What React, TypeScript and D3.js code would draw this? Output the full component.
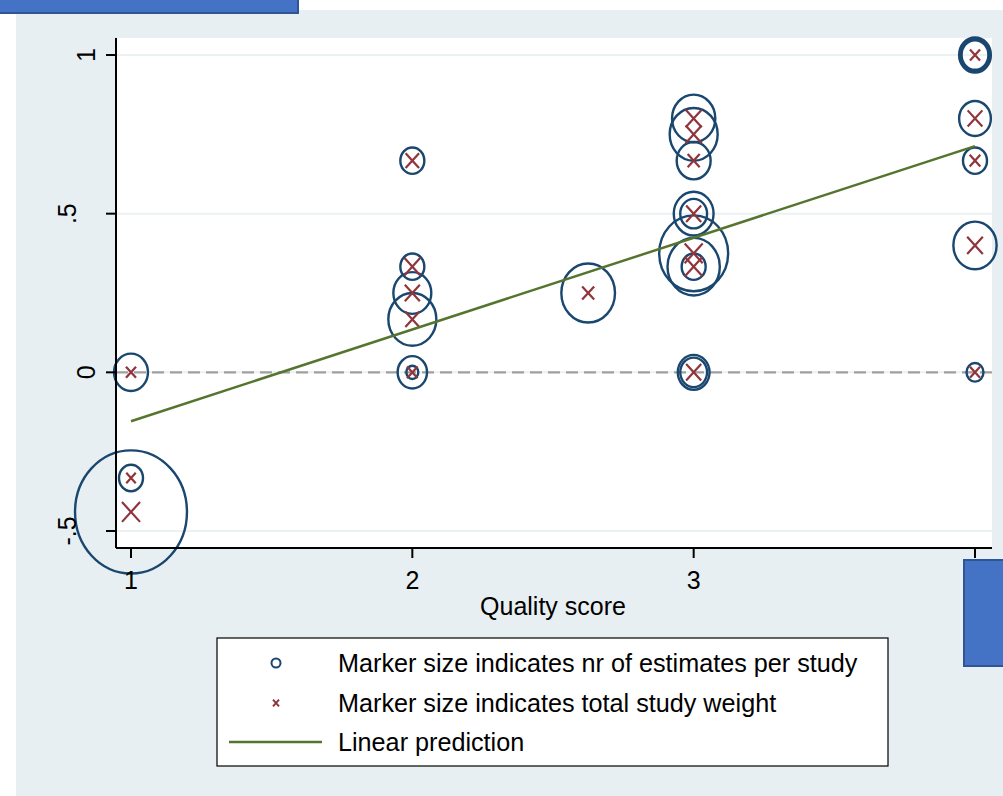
import React from "react";
import * as d3 from "d3";

// ---- data ----
const circleX = [1, 1, 1, 2, 2, 2, 2, 2, 2, 2.625, 3, 3, 3, 3, 3, 3, 3, 3, 3, 3, 4, 4, 4, 4, 4, 4, 4];
const circleY = [0, -0.333, -0.44, 0.667, 0.333, 0.25, 0.167, 0, 0, 0.25, 0.8, 0.75, 0.667, 0.5, 0.5, 0.375, 0.333, 0.333, 0, 0, 1, 1, 1, 0.8, 0.667, 0.4, 0];
const circleEstimates = [8, 4, 87, 4, 4, 10, 16, 6, 1, 20, 13, 16, 8, 11, 5, 33, 19, 4, 7, 5, 5, 6, 7, 7, 4, 13, 2];

const crossX = [1, 1, 1, 2, 2, 2, 2, 2, 2.625, 3, 3, 3, 3, 3, 3, 3, 4, 4, 4, 4, 4];
const crossY = [0, -0.333, -0.44, 0.667, 0.333, 0.25, 0.167, 0, 0.25, 0.8, 0.75, 0.667, 0.5, 0.375, 0.333, 0, 1, 0.8, 0.667, 0.4, 0];
const crossWeight = [2.8, 2.5, 9, 5, 7.1, 6.25, 5.4, 3.1, 4, 7.1, 7.1, 4, 6.25, 9, 9, 6.25, 2.8, 6, 3.1, 6.8, 2.8];

const fitX = [1, 4];
const fitY = [-0.154, 0.713];

const xTicks = [1, 2, 3, 4];
const yTicks = [-0.5, 0, 0.5, 1];
const yTickLabels = ["-.5", "0", ".5", "1"];
const xTitle = "Quality score";
const legendLabels = [
  "Marker size indicates nr of estimates per study",
  "Marker size indicates total study weight",
  "Linear prediction",
];

// ---- layout ----
const W = 1003, H = 796;
const plotL = 116, plotR = 992, plotT = 38, plotB = 548;
const ASPECT = 1.1; // vertical stretch of markers in the reference
const NAVY = "#1a476f", MAROON = "#90353b", GREEN = "#55752f";
const BG = "#e8eff2", GRID = "#eaf2f3";
const FONT = "'Liberation Sans', Arial, sans-serif";

export default function App() {
  const x = d3.scaleLinear().domain([1, 4]).range([131, 975]);
  const y = d3.scaleLinear().domain([-0.5, 1]).range([531, 55]);
  const r = d3.scaleSqrt().domain([0, 100]).range([0, 60]);
  const c = d3.scaleSqrt().domain([0, 10]).range([0, 9.5]);

  const crossPath = (cx: number, cy: number, h: number) => {
    const v = h * ASPECT;
    return `M${cx - h},${cy - v}L${cx + h},${cy + v}M${cx + h},${cy - v}L${cx - h},${cy + v}`;
  };

  const line = d3.line<number>().x((d) => x(d)).y((_, i) => y(fitY[i]));

  const legX = 217, legY = 638, legW = 671, legH = 128;
  const rowY = [663, 703, 742];

  return (
    <svg width={W} height={H} style={{ position: "absolute", left: 0, top: 0 }} fontFamily={FONT}>
      <rect x={0} y={0} width={W} height={H} fill="#ffffff" />
      <rect x={16} y={10} width={W - 16} height={H - 10} fill={BG} />
      <rect x={plotL} y={plotT} width={plotR - plotL} height={plotB - plotT} fill="#ffffff" />

      {/* gridlines */}
      {yTicks.map((t) => (
        <line key={"g" + t} x1={plotL} x2={plotR} y1={y(t)} y2={y(t)} stroke={GRID} strokeWidth={2} />
      ))}
      {/* zero reference line */}
      <line x1={plotL} x2={plotR} y1={y(0)} y2={y(0)} stroke="#a0a0a0" strokeWidth={2.2} strokeDasharray="12,6" />

      {/* circles */}
      {circleX.map((cx, i) => {
        const rr = r(circleEstimates[i]);
        return (
          <ellipse key={"c" + i} cx={x(cx)} cy={y(circleY[i])} rx={rr} ry={rr * ASPECT}
            fill="none" stroke={NAVY} strokeWidth={2.4} />
        );
      })}
      {/* crosses */}
      {crossX.map((cx, i) => (
        <path key={"x" + i} d={crossPath(x(cx), y(crossY[i]), c(crossWeight[i]))}
          fill="none" stroke={MAROON} strokeWidth={2.2} />
      ))}
      {/* linear prediction */}
      <path d={line(fitX) || ""} fill="none" stroke={GREEN} strokeWidth={2.5} />

      {/* axes */}
      <line x1={plotL} x2={plotL} y1={plotT} y2={plotB} stroke="#000" strokeWidth={2} />
      <line x1={plotL} x2={plotR} y1={plotB} y2={plotB} stroke="#000" strokeWidth={2} />
      {yTicks.map((t, i) => {
        const yy = y(t);
        const bx = yTickLabels[i].includes(".") ? 76 : 95;
        return (
          <g key={"yt" + t}>
            <line x1={plotL - 10} x2={plotL} y1={yy} y2={yy} stroke="#000" strokeWidth={2} />
            <text transform={`translate(${bx},${yy}) rotate(-90)`} textAnchor="middle" fontSize={25} fill="#000">
              {yTickLabels[i]}
            </text>
          </g>
        );
      })}
      {xTicks.map((t) => (
        <g key={"xt" + t}>
          <line x1={x(t)} x2={x(t)} y1={plotB} y2={plotB + 10} stroke="#000" strokeWidth={2} />
          <text x={x(t)} y={589} textAnchor="middle" fontSize={25} fill="#000">{t}</text>
        </g>
      ))}
      <text x={553} y={615} textAnchor="middle" fontSize={25} fill="#000">{xTitle}</text>

      {/* legend */}
      <rect x={legX} y={legY} width={legW} height={legH} fill="#fff" stroke="#000" strokeWidth={1.2} />
      <circle cx={276} cy={rowY[0]} r={4.5} fill="none" stroke={NAVY} strokeWidth={2} />
      <path d={crossPath(276, rowY[1], 3)} stroke={MAROON} strokeWidth={2} fill="none" />
      <line x1={229} x2={322} y1={rowY[2]} y2={rowY[2]} stroke={GREEN} strokeWidth={2.5} />
      {legendLabels.map((l, i) => (
        <text key={l} x={338} y={rowY[i] + 9} fontSize={25.2} fill="#000">{l}</text>
      ))}

      {/* overlay boxes */}
      <rect x={-2} y={-2} width={300} height={15} fill="#4472c4" stroke="#2f5597" strokeWidth={2} />
      <rect x={964} y={560} width={45} height={106} fill="#4472c4" stroke="#2f5597" strokeWidth={2} />
    </svg>
  );
}
